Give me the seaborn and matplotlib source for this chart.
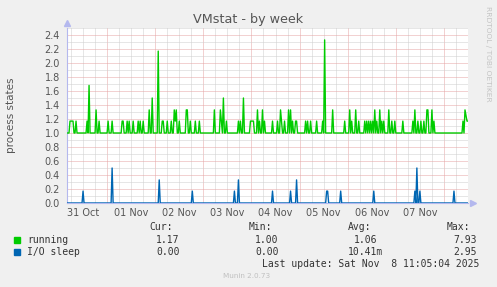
import numpy as np
import pandas as pd
import matplotlib
matplotlib.use("Agg")
import matplotlib.pyplot as plt
import matplotlib.dates as mdates
from matplotlib.ticker import FuncFormatter, MultipleLocator
from matplotlib.patches import Rectangle
import seaborn as sns

# ---------------- data ----------------
START = "2025-10-31 04:00"
N_SLOTS = 401                      # 30-minute samples
RUNNING_BASE = 1.0
IO_BASE = 0.0

running_slots = [3, 4, 5, 6, 9, 20, 22, 29, 32, 41, 45, 55, 56, 60, 62, 66, 71, 73, 76,
                 82, 85, 91, 95, 96, 100, 104, 107, 108, 109, 112, 119, 120, 123, 128,
                 132, 147, 153, 154, 156, 159, 171, 173, 176, 183, 184, 185, 186, 190,
                 192, 195, 197, 205, 210, 213, 214, 217, 221, 223, 225, 228, 229, 238,
                 240, 243, 249, 255, 257, 265, 277, 282, 284, 288, 291, 297, 299, 301,
                 303, 305, 307, 309, 312, 314, 316, 321, 324, 327, 335, 345, 347, 350,
                 353, 356, 359, 360, 364, 366, 395, 397, 398, 399, 400]
running_vals = [1.17, 1.17, 1.17, 1.17, 1.17, 1.17, 1.68, 1.33, 1.17, 1.17, 1.17, 1.17,
                1.17, 1.17, 1.17, 1.17, 1.17, 1.17, 1.17, 1.33, 1.50, 2.17, 1.17, 1.17,
                1.17, 1.17, 1.33, 1.17, 1.33, 1.17, 1.33, 1.33, 1.17, 1.17, 1.17, 1.33,
                1.33, 1.17, 1.50, 1.17, 1.17, 1.17, 1.50, 1.17, 1.17, 1.17, 1.17, 1.33,
                1.17, 1.33, 1.17, 1.17, 1.17, 1.33, 1.17, 1.17, 1.33, 1.33, 1.17, 1.17,
                1.17, 1.17, 1.17, 1.17, 1.17, 1.17, 2.33, 1.33, 1.17, 1.33, 1.17, 1.33,
                1.17, 1.17, 1.17, 1.17, 1.17, 1.17, 1.33, 1.17, 1.33, 1.17, 1.17, 1.33,
                1.17, 1.17, 1.17, 1.17, 1.33, 1.17, 1.17, 1.17, 1.33, 1.33, 1.33, 1.17,
                1.17, 1.33, 1.25, 1.17, 1.17]

io_slots = [16, 45, 92, 125, 167, 171, 205, 223, 229, 259, 260, 273, 306, 347, 349, 352, 386]
io_vals = [0.17, 0.50, 0.33, 0.17, 0.17, 0.33, 0.17, 0.17, 0.33, 0.17, 0.17, 0.17, 0.17,
           0.17, 0.50, 0.17, 0.17]

series_names = ["running", "I/O sleep"]
series_colors = ["#00cc00", "#0066b3"]
stat_headers = ["Cur:", "Min:", "Avg:", "Max:"]
running_stats = ["1.17", "1.00", "1.06", "7.93"]
io_stats = ["0.00", "0.00", "10.41m", "2.95"]
last_update = "Last update: Sat Nov  8 11:05:04 2025"
title = "VMstat - by week"
ylabel = "process states"

# ---------------- build frame ----------------
times = pd.date_range(START, periods=N_SLOTS, freq="30min")
running = np.full(N_SLOTS, RUNNING_BASE)
running[running_slots] = running_vals
io = np.full(N_SLOTS, IO_BASE)
io[io_slots] = io_vals
df = pd.concat([
    pd.DataFrame({"time": times, "value": running, "series": series_names[0]}),
    pd.DataFrame({"time": times, "value": io, "series": series_names[1]}),
], ignore_index=True)

# ---------------- figure ----------------
sns.set_style("white")
plt.rcParams["font.family"] = ["DejaVu Sans"]
W, H = 497, 287
fig = plt.figure(figsize=(W / 100, H / 100), dpi=100, facecolor="#f0f0f0")
L, R, T, B = 67, 468, 28, 203
ax = fig.add_axes([L / W, 1 - B / H, (R - L) / W, (B - T) / H])
ax.set_facecolor("white")

sns.lineplot(data=df, x="time", y="value", hue="series",
             palette=dict(zip(series_names, series_colors)),
             linewidth=1.0, legend=False, estimator=None, ax=ax, zorder=3)

ax.set_xlim(times[0], times[-1])
ax.set_ylim(0, 2.5)
x_right = mdates.date2num(times[-1])

def day_label(x, p):
    d = mdates.num2date(x)
    if d.hour == 12 and x < x_right - 0.05:
        return d.strftime("%d %b")
    return ""

# x ticks / grid
ax.xaxis.set_major_locator(mdates.HourLocator(byhour=[0]))
ax.xaxis.set_minor_locator(mdates.HourLocator(byhour=[0, 6, 12, 18]))
ax.xaxis.set_major_formatter(FuncFormatter(lambda x, p: ""))
ax.xaxis.set_minor_formatter(FuncFormatter(day_label))
# y ticks / grid
ax.yaxis.set_major_locator(MultipleLocator(0.2))
ax.yaxis.set_minor_locator(MultipleLocator(0.1))
ax.yaxis.set_major_formatter(FuncFormatter(lambda y, p: f"{y:.1f}" if y < 2.45 else ""))

red = "#e6a4a4"
gray = "#cfcfcf"
dot = (0, (1, 1))
ax.grid(which="minor", axis="both", color=gray, linestyle=dot, linewidth=0.72, zorder=1)
ax.grid(which="major", axis="both", color=red, linestyle=dot, linewidth=0.72, zorder=1)
ax.set_axisbelow(True)

ax.tick_params(axis="both", which="both", length=0, labelsize=7, labelcolor="#555555")
ax.tick_params(axis="x", which="minor", pad=3.5)
ax.tick_params(axis="y", which="major", pad=5)

ax.set_xlabel("")
ax.set_ylabel("")
for s in ["top", "right"]:
    ax.spines[s].set_visible(False)
axis_col = "#b4b8ee"
for s in ["left", "bottom"]:
    ax.spines[s].set_color(axis_col)
    ax.spines[s].set_linewidth(0.8)
ax.plot([0], [1.03], marker="^", color=axis_col, markersize=4, transform=ax.transAxes,
        clip_on=False, zorder=5)
ax.plot([1.012], [0], marker=">", color=axis_col, markersize=4, transform=ax.transAxes,
        clip_on=False, zorder=5)

# ---------------- texts ----------------
def ftxt(x, y, s, **kw):
    fig.text(x / W, 1 - y / H, s, va="center", **kw)

ftxt(248, 19, title, ha="center", fontsize=9.2, color="#555555")
ftxt(11, 115.5, ylabel, ha="center", rotation=90, fontsize=7.5, color="#555555")
ftxt(488, 54, "RRDTOOL / TOBI OETIKER", ha="center", rotation=270, fontsize=5.4,
     color="#c4c4c4")

mono = dict(family="DejaVu Sans Mono", fontsize=7, color="#333333", ha="left")
for hx, h in zip([149, 249, 348, 447], stat_headers):
    ftxt(hx, 227, h, **mono)
for row_y, name, col, stats, xs in [
        (240, series_names[0], series_colors[0], running_stats, [156, 255, 354, 453]),
        (252, series_names[1], series_colors[1], io_stats, [156, 255, 348, 453])]:
    fig.patches.append(Rectangle((14 / W, 1 - (row_y + 3) / H), 6 / W, 6 / H,
                                 transform=fig.transFigure, color=col, zorder=5))
    ftxt(27, row_y, name, **mono)
    for sx, s in zip(xs, stats):
        ftxt(sx, row_y, s, **mono)
ftxt(262, 264, last_update, **mono)
ftxt(223, 276, "Munin 2.0.73", ha="left", fontsize=5.2, color="#c0c0c0")

fig.savefig("out.png", dpi=100, facecolor=fig.get_facecolor())
